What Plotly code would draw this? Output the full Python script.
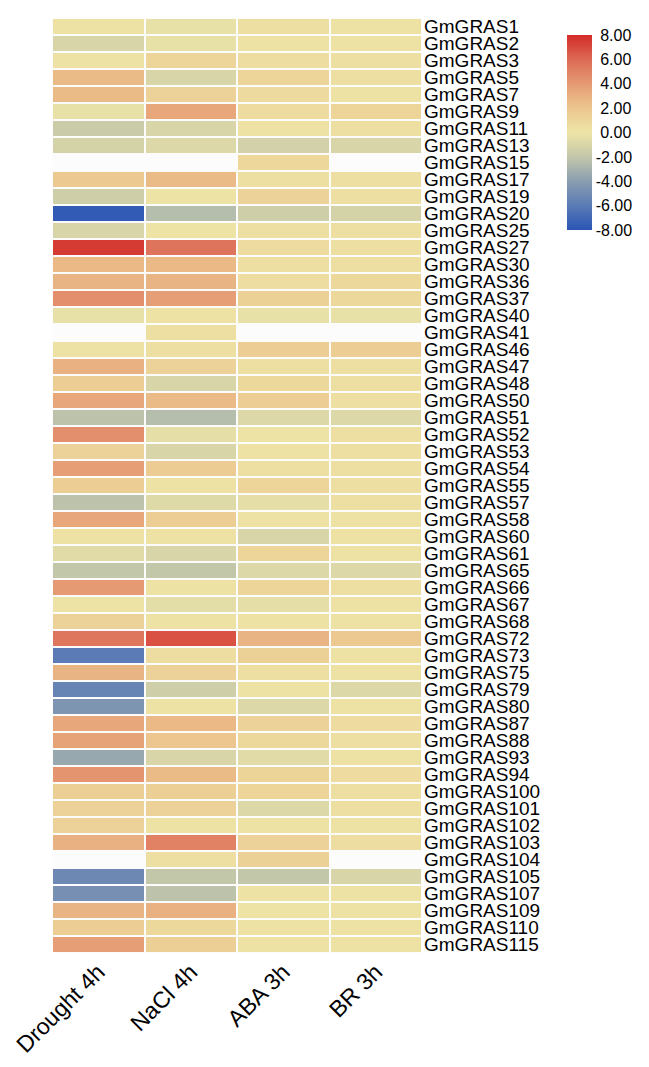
import plotly.graph_objects as go

genes = ["GmGRAS1", "GmGRAS2", "GmGRAS3", "GmGRAS5", "GmGRAS7", "GmGRAS9", "GmGRAS11",
         "GmGRAS13", "GmGRAS15", "GmGRAS17", "GmGRAS19", "GmGRAS20", "GmGRAS25", "GmGRAS27",
         "GmGRAS30", "GmGRAS36", "GmGRAS37", "GmGRAS40", "GmGRAS41", "GmGRAS46", "GmGRAS47",
         "GmGRAS48", "GmGRAS50", "GmGRAS51", "GmGRAS52", "GmGRAS53", "GmGRAS54", "GmGRAS55",
         "GmGRAS57", "GmGRAS58", "GmGRAS60", "GmGRAS61", "GmGRAS65", "GmGRAS66", "GmGRAS67",
         "GmGRAS68", "GmGRAS72", "GmGRAS73", "GmGRAS75", "GmGRAS79", "GmGRAS80", "GmGRAS87",
         "GmGRAS88", "GmGRAS93", "GmGRAS94", "GmGRAS100", "GmGRAS101", "GmGRAS102",
         "GmGRAS103", "GmGRAS104", "GmGRAS105", "GmGRAS107", "GmGRAS109", "GmGRAS110",
         "GmGRAS115"]

conditions = ["Drought 4h", "NaCl 4h", "ABA 3h", "BR 3h"]

drought = [0.2, -1.0, 0.2, 2.5, 2.5, -0.3, -1.7, -1.2, None, 1.8, -1.5, -7.7, -1.0, 7.5,
           2.6, 2.8, 4.5, -0.3, None, 0.2, 3.0, 1.5, 3.4, -2.2, 4.5, 1.2, 3.8, 1.5,
           -2.2, 3.4, 0.2, -0.6, -2.0, 4.0, 0.1, 1.2, 5.5, -6.0, 2.8, -5.5, -4.5, 3.4,
           3.6, -3.5, 4.2, 1.4, 1.2, 1.2, 3.0, None, -5.2, -4.8, 2.8, 1.5, 3.8]

nacl = [-0.3, -0.3, 1.0, -1.0, 1.2, 3.4, -1.0, -0.8, None, 2.5, 0.1, -2.5, 0.1, 5.6,
        2.6, 2.8, 3.8, 0.2, 0.4, 0.3, 1.2, -1.0, 2.5, -2.5, -0.4, -1.0, 1.6, 0.2,
        -0.7, 1.5, 0.2, -1.0, -2.0, 0.2, -0.5, 0.2, 6.8, 0.5, 1.2, -1.5, 0.2, 2.6,
        2.0, -1.0, 2.5, 1.4, 1.2, 0.2, 5.0, 0.3, -2.0, -2.2, 3.0, 0.8, 1.4]

aba = [0.3, 0.2, 0.5, 1.0, 0.7, 0.6, 0.2, -1.3, 0.9, 0.4, 1.2, -1.5, 0.4, 0.6,
       0.4, 0.5, 1.3, -0.3, None, 1.5, 0.3, 0.8, 1.5, -0.8, 0.1, 0.2, 0.3, 1.0,
       -0.4, 0.2, -1.0, 1.0, -0.8, 1.0, -0.4, 0.2, 2.8, 1.3, 0.3, 0.2, -0.8, 1.2,
       0.8, -0.6, 1.1, 1.0, -0.8, 0.2, 1.2, 1.3, -2.0, 0.2, 0.1, 0.2, 0.2]

br = [0.2, 0.2, 0.3, 0.4, 0.2, 1.0, 0.3, -1.0, None, 0.3, 0.3, -1.2, 0.3, 0.4,
      0.4, 0.8, 0.8, -0.3, None, 1.5, 0.3, 0.3, 0.3, -0.8, 0.3, 0.3, 0.3, 0.3,
      0.3, 0.2, 0.2, 0.2, -0.8, 0.3, 0.2, 0.2, 1.8, 0.2, 0.2, -0.8, 0.2, 0.6,
      0.3, 0.2, 0.6, 0.3, 0.4, 0.2, 0.5, None, -1.0, 0.2, 0.2, 0.2, 0.2]

cbar_ticks = [8, 6, 4, 2, 0, -2, -4, -6, -8]
cbar_labels = ["\u00a08.00", "\u00a06.00", "\u00a04.00", "\u00a02.00", "\u00a00.00",
               "-2.00", "-4.00", "-6.00", "-8.00"]

z = [list(row) for row in zip(drought, nacl, aba, br)]

colorscale = [
    [0.0, "#2a55b5"],
    [0.125, "#5a7bb5"],
    [0.25, "#8a9db0"],
    [0.375, "#c3c7aa"],
    [0.5, "#ede4a6"],
    [0.625, "#ecc68e"],
    [0.75, "#e59a73"],
    [0.875, "#dc6a55"],
    [1.0, "#d42b27"],
]

fig = go.Figure(go.Heatmap(
    z=z, x=conditions, y=genes,
    zmin=-8, zmax=8,
    colorscale=colorscale,
    xgap=2, ygap=2,
    hoverongaps=False,
    colorbar=dict(
        tickvals=cbar_ticks,
        ticktext=cbar_labels,
        ticks="",
        outlinewidth=0,
        thickness=25,
        thicknessmode="pixels",
        len=195,
        lenmode="pixels",
        x=1.392, xanchor="left",
        y=0.8775, yanchor="middle",
        tickfont=dict(family="Liberation Sans, Arial", size=16, color="black"),
        ypad=0, xpad=0,
    ),
))

fig.update_layout(
    width=649, height=1067,
    margin=dict(l=44, r=235, t=10, b=122, autoexpand=False),
    paper_bgcolor="white",
    plot_bgcolor="#fcfcfc",
    font=dict(family="Liberation Sans, Arial", color="black"),
    xaxis=dict(
        tickangle=-45,
        tickfont=dict(size=23, color="black"),
        showgrid=False, zeroline=False, ticks="", showline=False,
        automargin=False,
    ),
    yaxis=dict(
        side="right",
        autorange="reversed",
        tickmode="array",
        tickvals=genes,
        ticktext=genes,
        tickfont=dict(size=19, color="black"),
        showgrid=False, zeroline=False, ticks="", showline=False,
        ticklabelstandoff=1,
        automargin=False,
    ),
)

fig.write_html("out.html")
